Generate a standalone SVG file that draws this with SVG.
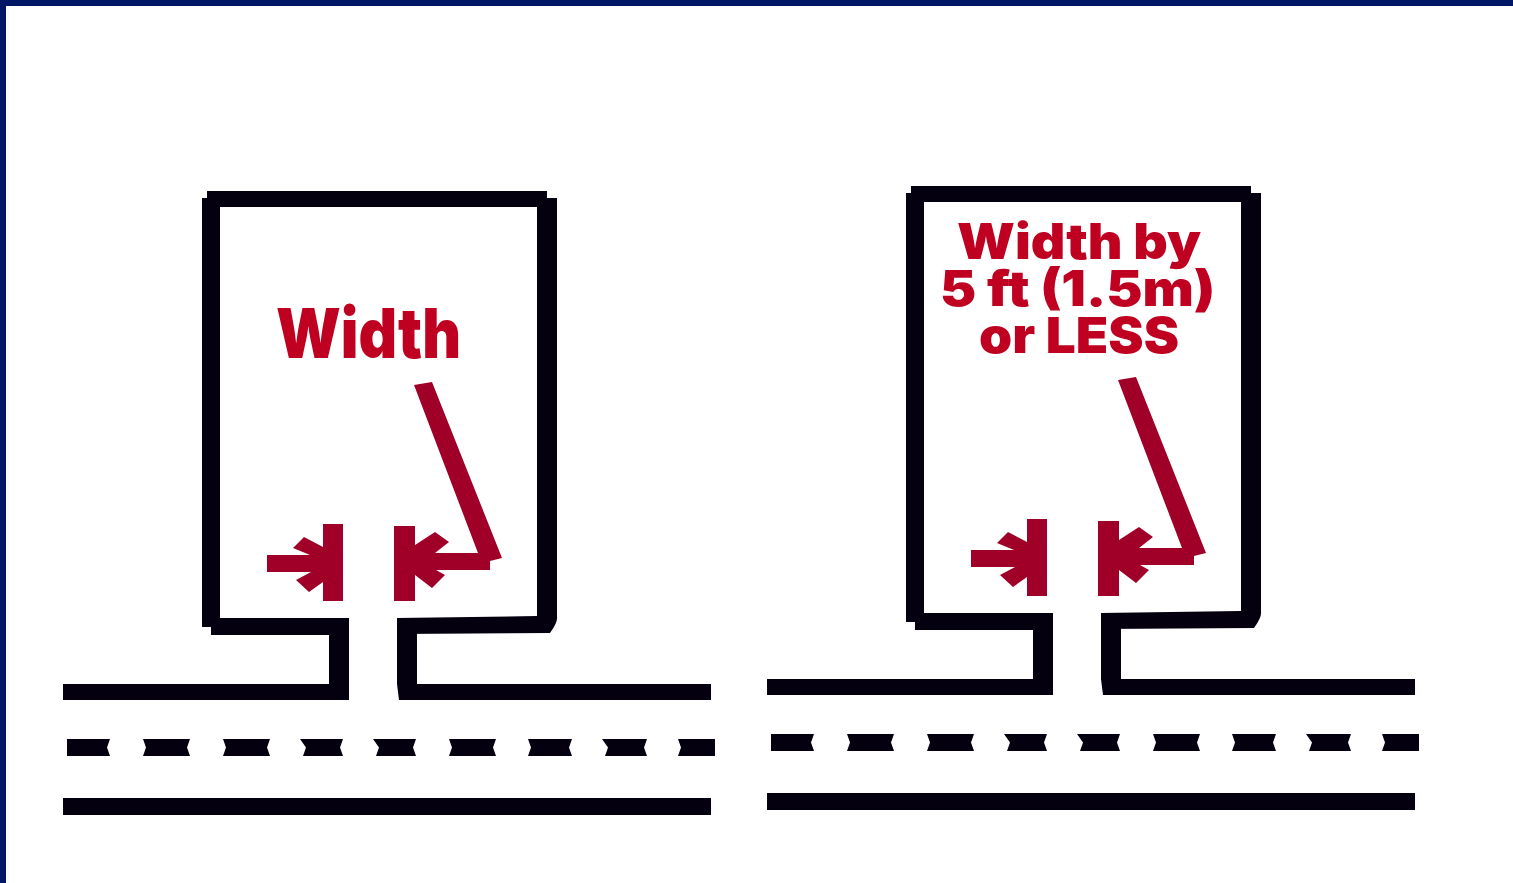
<svg xmlns="http://www.w3.org/2000/svg" width="1513" height="883" viewBox="0 0 1513 883">
<style>
.wall{fill:#04000f}
.mark{fill:#a00028}
.lbl{fill:#c00020;font-family:"Inter","Open Sans",sans-serif;font-weight:900}
</style>
<defs>
<g id="layout">
<path class="wall" d="M207 191H547V198H557V616Q558 622 550 633L397 634V618L537 616V207H220V618L349 618V700H329V635L211 635V627H202V198H207Z"/>
<path class="wall" d="M397 618H417V684H711V700H399L397 684Z"/>
<path class="wall" d="M63 684H329V700H63Z"/>
<path class="wall" d="M67 739H110L107 747.500L110 756H67ZM143 739H190L187 747.500L190 756H143L146 747.500ZM223 739H270L267 747.500L270 756H223L226 747.500ZM300 739H343L340 747.500L343 756H303L306 747.500ZM373 739H416L413 747.500L416 756H376L379 747.500ZM449 739H496L493 747.500L496 756H449L452 747.500ZM528 739H572L569 747.500L572 756H528L531 747.500ZM602 739H647L644 747.500L647 756H605L608 747.500ZM678 739H715V756H678L681 747.500Z"/>
<rect class="wall" x="63" y="798" width="648" height="17"/>
<path class="mark" d="M323 524H343V601H323V582L309 592L296 580L311 572H267V555H310L293 548L304 537L323 547Z"/>
<path class="mark" d="M394 526H415V545L435 532L449 542L435 553H478L414 385L432 382L502 558L490 561V570H436L445 575L432 588L415 575V601H394Z"/>
</g>
</defs>
<rect width="1513" height="883" fill="#fff"/>
<path id="frame" fill="#001766" d="M0 0H1513V6H6V883H0Z"/>
<g id="connectors">
<use href="#layout"/>
<use href="#layout" transform="translate(704 -5)"/>
</g>
<g id="label-left">
<text class="lbl" x="276" y="358" font-size="69" textLength="185" lengthAdjust="spacingAndGlyphs">Width</text>
</g>
<g id="label-right">
<text class="lbl" x="957" y="259" font-size="49" textLength="244" lengthAdjust="spacingAndGlyphs">Width by</text>
<text class="lbl" x="940" y="306" font-size="49" textLength="275" lengthAdjust="spacingAndGlyphs">5 ft (1.5m)</text>
<text class="lbl" x="979" y="353" font-size="49" textLength="200" lengthAdjust="spacingAndGlyphs">or LESS</text>
</g>
</svg>
